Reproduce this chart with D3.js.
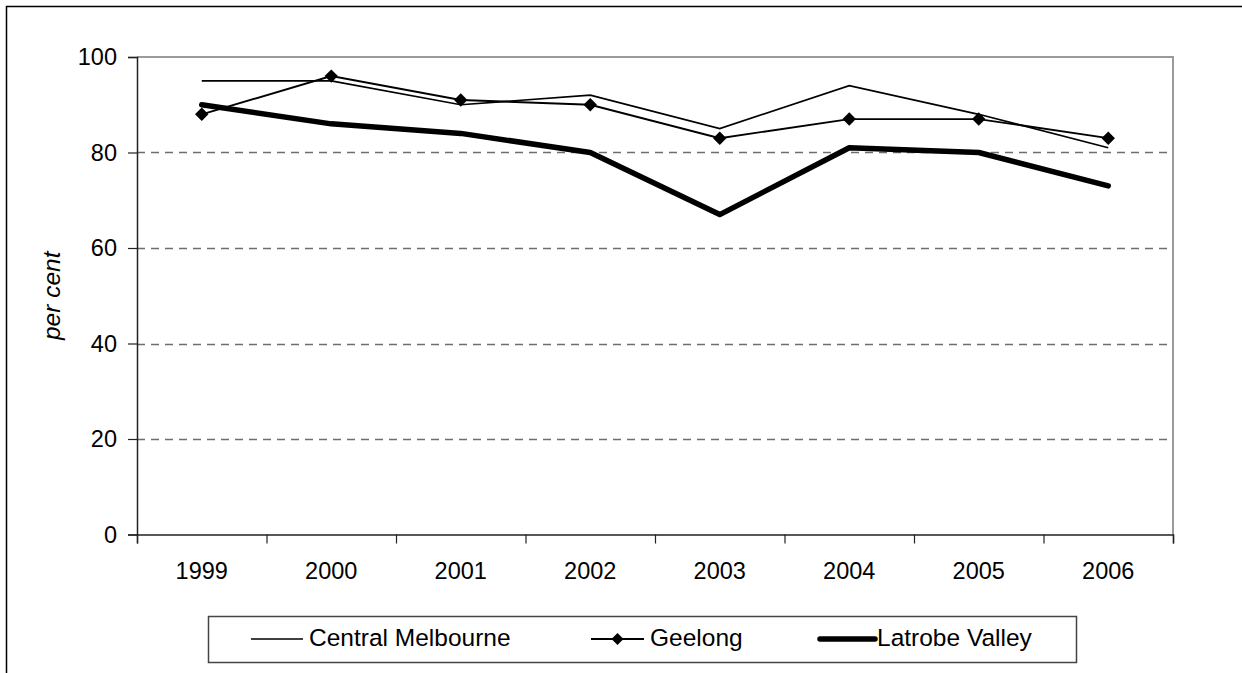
<!DOCTYPE html>
<html>
<head>
<meta charset="utf-8">
<script src="https://cdn.jsdelivr.net/npm/d3@7"></script>
<style>
  html, body { margin: 0; padding: 0; background: #fff; }
  svg { display: block; font-family: Arial, "Liberation Sans", sans-serif; }
</style>
</head>
<body>
<svg id="chart" width="1242" height="673"></svg>
<script>
const years = ["1999","2000","2001","2002","2003","2004","2005","2006"];
const centralMelbourne = [95, 95, 90, 92, 85, 94, 88, 81];
const geelong = [88, 96, 91, 90, 83, 87, 87, 83];
const latrobeValley = [90, 86, 84, 80, 67, 81, 80, 73];
const yTicks = [0, 20, 40, 60, 80, 100];
const seriesNames = ["Central Melbourne", "Geelong", "Latrobe Valley"];
const yLabel = "per cent";

(function () {
const svg = d3.select("#chart");

// outer frame (extends past the right/bottom of the window)
svg.append("rect").attr("x", 6.5).attr("y", 6.5).attr("width", 1300).attr("height", 800)
  .attr("fill", "none").attr("stroke", "#000").attr("stroke-width", 1.5);

const pLeft = 137, pRight = 1173, pTop = 57, pBottom = 534.5;
const x = d3.scaleBand().domain(years).range([pLeft, pRight]).paddingInner(0).paddingOuter(0);
const xEdge = d3.scaleLinear().domain([0, years.length]).range([pLeft, pRight]);
const y = d3.scaleLinear().domain([0, 100]).range([pBottom, pTop]);
const cx = d => x(d) + x.bandwidth() / 2;

// gridlines
svg.append("g").selectAll("line").data(yTicks.filter(t => t > 0 && t < 100)).join("line")
  .attr("x1", pLeft).attr("x2", pRight)
  .attr("y1", d => Math.round(y(d)) + 0.5).attr("y2", d => Math.round(y(d)) + 0.5)
  .attr("stroke", "#6e6e6e").attr("stroke-width", 1.4).attr("stroke-dasharray", "8,6");

// top and right plot border (gray)
svg.append("path")
  .attr("d", `M${pLeft},${pTop} H${pRight} V${pBottom}`)
  .attr("fill", "none").attr("stroke", "#9a9a9a").attr("stroke-width", 2);

// y axis
const yAxis = svg.append("g").attr("transform", `translate(${pLeft},0)`)
  .call(d3.axisLeft(y).tickValues(yTicks).tickSize(9).tickPadding(11).tickFormat(d3.format("d")));
yAxis.select(".domain").attr("stroke", "#222").attr("stroke-width", 1.5);
yAxis.selectAll(".tick line").attr("stroke", "#222").attr("stroke-width", 1.2);
yAxis.selectAll("text").attr("font-size", 23.5).attr("fill", "#000")
  .attr("font-family", "Arial, 'Liberation Sans', sans-serif");

// x axis boundary ticks
const xTickAxis = svg.append("g").attr("transform", `translate(0,${pBottom})`)
  .call(d3.axisBottom(xEdge).tickValues(d3.range(years.length + 1)).tickSize(9).tickFormat(""));
xTickAxis.select(".domain").attr("stroke", "#222").attr("stroke-width", 1.5);
xTickAxis.selectAll(".tick line").attr("stroke", "#222").attr("stroke-width", 1.2);

// x labels
const xLab = svg.append("g").attr("transform", `translate(0,${pBottom})`)
  .call(d3.axisBottom(x).tickSize(0).tickPadding(28));
xLab.select(".domain").remove();
xLab.selectAll("text").attr("font-size", 23.5).attr("fill", "#000")
  .attr("font-family", "Arial, 'Liberation Sans', sans-serif");

// y label
svg.append("text").attr("transform", `translate(60,${(pTop + pBottom) / 2}) rotate(-90)`)
  .attr("text-anchor", "middle").attr("font-size", 24.5).attr("font-style", "italic")
  .text(yLabel);

// lines
const line = d3.line().x((d, i) => cx(years[i])).y(d => y(d));
svg.append("path").datum(latrobeValley).attr("d", line)
  .attr("fill", "none").attr("stroke", "#000").attr("stroke-width", 5.5).attr("stroke-linejoin", "round").attr("stroke-linecap", "round");
svg.append("path").datum(centralMelbourne).attr("d", line)
  .attr("fill", "none").attr("stroke", "#000").attr("stroke-width", 1.7);
svg.append("path").datum(geelong).attr("d", line)
  .attr("fill", "none").attr("stroke", "#000").attr("stroke-width", 1.9);
svg.append("g").selectAll("path").data(geelong).join("path")
  .attr("transform", (d, i) => `translate(${cx(years[i])},${y(d)}) rotate(45)`)
  .attr("d", d3.symbol().type(d3.symbolSquare).size(90))
  .attr("fill", "#000");

// legend
const lg = svg.append("g");
lg.append("rect").attr("x", 208.5).attr("y", 616.5).attr("width", 868).attr("height", 46)
  .attr("fill", "#fff").attr("stroke", "#444").attr("stroke-width", 1.5);
const ly = 639;
const items = [
  { name: seriesNames[0], x1: 251, x2: 303, tx: 309, w: 1.7, marker: false },
  { name: seriesNames[1], x1: 591, x2: 644, tx: 650, w: 1.9, marker: true },
  { name: seriesNames[2], x1: 820, x2: 875, tx: 877, w: 5.5, marker: false }
];
items.forEach(it => {
  lg.append("line").attr("x1", it.x1).attr("x2", it.x2).attr("y1", ly).attr("y2", ly)
    .attr("stroke", "#000").attr("stroke-width", it.w).attr("stroke-linecap", it.w > 3 ? "round" : "butt");
  if (it.marker) {
    lg.append("path").attr("transform", `translate(${(it.x1 + it.x2) / 2},${ly}) rotate(45)`)
      .attr("d", d3.symbol().type(d3.symbolSquare).size(72)).attr("fill", "#000");
  }
  lg.append("text").attr("x", it.tx).attr("y", 645.5).attr("font-size", 24.5).attr("fill", "#000").text(it.name);
});
})();
</script>
</body>
</html>
